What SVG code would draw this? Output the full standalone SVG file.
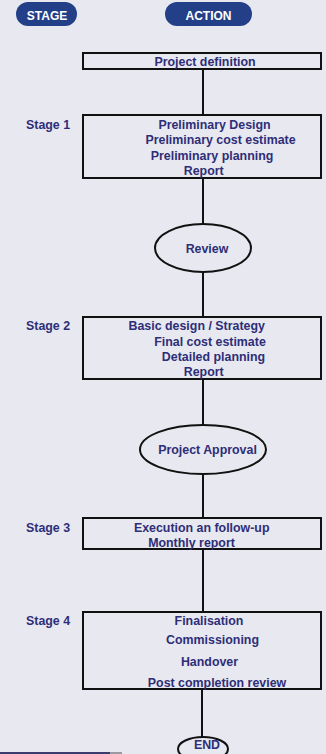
<svg xmlns="http://www.w3.org/2000/svg" width="326" height="754" viewBox="0 0 326 754">
<style>
text{font-family:"Liberation Sans",Arial,sans-serif;font-weight:bold;font-size:12.4px;fill:#2E2E78;text-anchor:middle}
.pill{fill:#233F88}
.pt{fill:#FFFFFF;font-size:12px}
.box{fill:none;stroke:#111;stroke-width:2}
.lbl{text-anchor:start}
.c line{stroke:#111;stroke-width:2}
</style>
<rect width="326" height="754" fill="#E8E8F0"/>
<g id="stage-header"><rect class="pill" x="16" y="2" width="61" height="24" rx="12"/><text class="pt" x="47" y="19.5">STAGE</text></g>
<g id="action-header"><rect class="pill" x="165" y="2" width="87" height="24" rx="12"/><text class="pt" x="208.5" y="19.5">ACTION</text></g>
<g class="c" id="connectors">
<line x1="203" y1="69" x2="203" y2="115"/>
<line x1="203" y1="178" x2="203" y2="224"/>
<line x1="203" y1="272" x2="203" y2="317"/>
<line x1="203" y1="379" x2="203" y2="425"/>
<line x1="203" y1="474" x2="203" y2="518"/>
<line x1="203" y1="549" x2="203" y2="612"/>
<line x1="202" y1="689" x2="202" y2="737"/>
</g>
<g id="project-definition"><rect class="box" x="83" y="53" width="238" height="16"/><text x="205" y="66">Project definition</text></g>
<g id="stage1-label"><text class="lbl" x="26" y="129">Stage 1</text></g>
<g id="stage1"><rect class="box" x="83" y="115" width="238" height="63"/>
<text x="214.5" y="129">Preliminary Design</text>
<text x="220.5" y="144">Preliminary cost estimate</text>
<text x="212" y="159.5">Preliminary planning</text>
<text x="203.7" y="175">Report</text></g>
<g id="review"><ellipse cx="203" cy="248" rx="48" ry="24" fill="none" stroke="#111" stroke-width="2"/><text x="207" y="252.5">Review</text></g>
<g id="stage2-label"><text class="lbl" x="26" y="330">Stage 2</text></g>
<g id="stage2"><rect class="box" x="83" y="317" width="238" height="62"/>
<text x="196.7" y="330">Basic design / Strategy</text>
<text x="210" y="345.5">Final cost estimate</text>
<text x="213.5" y="361">Detailed planning</text>
<text x="203.7" y="376">Report</text></g>
<g id="project-approval"><ellipse cx="203" cy="449.5" rx="63" ry="24.5" fill="none" stroke="#111" stroke-width="2"/><text x="207.5" y="454">Project Approval</text></g>
<g id="stage3-label"><text class="lbl" x="26" y="532">Stage 3</text></g>
<g id="stage3"><rect class="box" x="83" y="518" width="238" height="31"/>
<text x="201.7" y="532">Execution an follow-up</text>
<text x="191.5" y="547">Monthly report</text></g>
<g id="stage4-label"><text class="lbl" x="26" y="625">Stage 4</text></g>
<g id="stage4"><rect class="box" x="83" y="612" width="238" height="77"/>
<text x="209" y="625">Finalisation</text>
<text x="212.5" y="644">Commissioning</text>
<text x="209.5" y="665.5">Handover</text>
<text x="217" y="686.5">Post completion review</text></g>
<g id="end"><ellipse cx="203" cy="749" rx="25" ry="12" fill="none" stroke="#111" stroke-width="2"/><text x="207" y="749">END</text></g>
<rect x="0" y="752" width="110" height="2" fill="#3C3C6E"/>
<rect x="110" y="752" width="12" height="2" fill="#9A9AA0"/>
</svg>
